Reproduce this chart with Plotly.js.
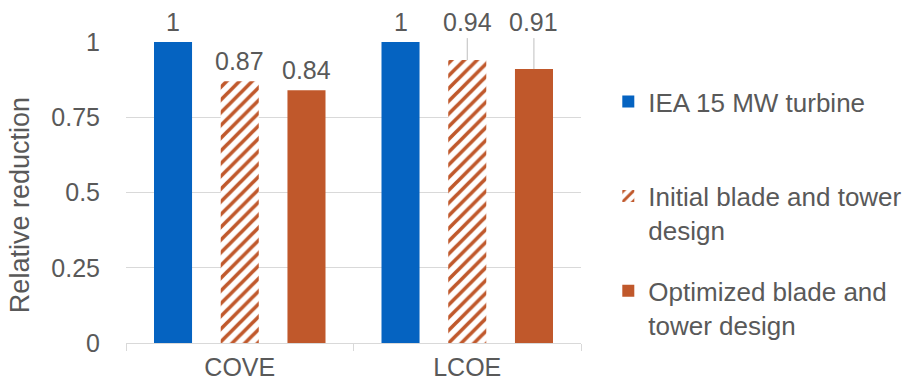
<!DOCTYPE html>
<html>
<head>
<meta charset="utf-8">
<script src="https://cdn.plot.ly/plotly-3.0.1.min.js"></script>
<style>
  html, body { margin: 0; padding: 0; background: #fff; }
  #chart { width: 913px; height: 392px; }
</style>
</head>
<body>
<div id="chart"></div>
<script>
// chart data
var categories = ['COVE', 'LCOE'];
var seriesNames = ['IEA 15 MW turbine<br>&nbsp;', 'Initial blade and tower<br>design', 'Optimized blade and<br>tower design'];
var ieaValues = [1, 1];
var initialValues = [0.87, 0.94];
var optimizedValues = [0.84, 0.91];
var yTickVals = [0, 0.25, 0.5, 0.75, 1];
var yTickText = ['0', '0.25', '0.5', '0.75', '1'];
var yTitle = 'Relative reduction';

var blue = '#0563C1';
var orange = '#C0582B';
var textGrey = '#595959';

var allSeries = [ieaValues, initialValues, optimizedValues];

var data = [
    {type: 'bar', x: categories, y: ieaValues, name: seriesNames[0], legendgroup: 'a',
     marker: {color: blue}, hoverinfo: 'none'},
    {type: 'bar', x: categories, y: initialValues, name: seriesNames[1], legendgroup: 'b',
     marker: {color: '#ffffff', pattern: {shape: '/', fgcolor: orange, bgcolor: '#ffffff', size: 9, solidity: 0.4}},
     hoverinfo: 'none'},
    {type: 'bar', x: categories, y: optimizedValues, name: seriesNames[2], legendgroup: 'c',
     marker: {color: orange}, hoverinfo: 'none'}
];

// value labels: the LCOE ones would sit under the top line, so they go up on a leader line
var slot = 0.293;
var labelTop = 1.013;
var annotations = [];
for (var s = 0; s < allSeries.length; s++) {
    for (var c = 0; c < categories.length; c++) {
        var v = allSeries[s][c];
        var xpos = c + (s - 1) * slot;
        if (c == 1 && v < 1) {
            annotations.push({x: xpos, y: v, xref: 'x', yref: 'y', text: String(v),
                showarrow: true, arrowhead: 0, arrowwidth: 1, arrowcolor: '#bfbfbf',
                axref: 'x', ax: xpos, ayref: 'y', ay: labelTop,
                yanchor: 'bottom', startstandoff: 0, standoff: 0,
                font: {size: 25, color: textGrey}});
        } else {
            annotations.push({x: xpos, y: v, xref: 'x', yref: 'y', text: String(v),
                showarrow: false, yanchor: 'bottom', yshift: 4,
                font: {size: 25, color: textGrey}});
        }
    }
}

// y title as an annotation, it sits a bit below the middle of the axis
annotations.push({xref: 'paper', yref: 'paper', x: -0.233, y: 0.458, xanchor: 'center', yanchor: 'middle',
    text: yTitle, textangle: -90, showarrow: false, font: {size: 27, color: textGrey}});

var layout = {
    width: 913,
    height: 392,
    margin: {l: 126, r: 332, t: 42, b: 49, autoexpand: false},
    paper_bgcolor: '#ffffff',
    plot_bgcolor: '#ffffff',
    font: {family: 'Liberation Sans, Arial, sans-serif', size: 25, color: textGrey},
    barmode: 'group',
    bargap: 0.12,
    bargroupgap: 0.43,
    xaxis: {
        type: 'category',
        showline: true, linecolor: '#d9d9d9', linewidth: 1,
        ticks: 'outside', tickson: 'boundaries', ticklen: 7, tickcolor: '#d9d9d9',
        tickfont: {size: 25, color: textGrey},
        ticklabelstandoff: 2,
        showgrid: false
    },
    yaxis: {
        range: [0, 1],
        tickvals: yTickVals, ticktext: yTickText,
        showgrid: true, gridcolor: '#d9d9d9', gridwidth: 1,
        zeroline: false, showline: false,
        ticks: '', ticklen: 0,
        ticklabelstandoff: 25,
        tickfont: {size: 25, color: textGrey}
    },
    showlegend: true,
    legend: {
        x: 1.06, y: 0.88, xanchor: 'left', yanchor: 'top',
        font: {size: 26, color: textGrey},
        tracegroupgap: 24,
        valign: 'top',
        itemwidth: 30
    },
    annotations: annotations
};

Plotly.newPlot('chart', data, layout, {displayModeBar: false, staticPlot: true});
</script>
</body>
</html>
